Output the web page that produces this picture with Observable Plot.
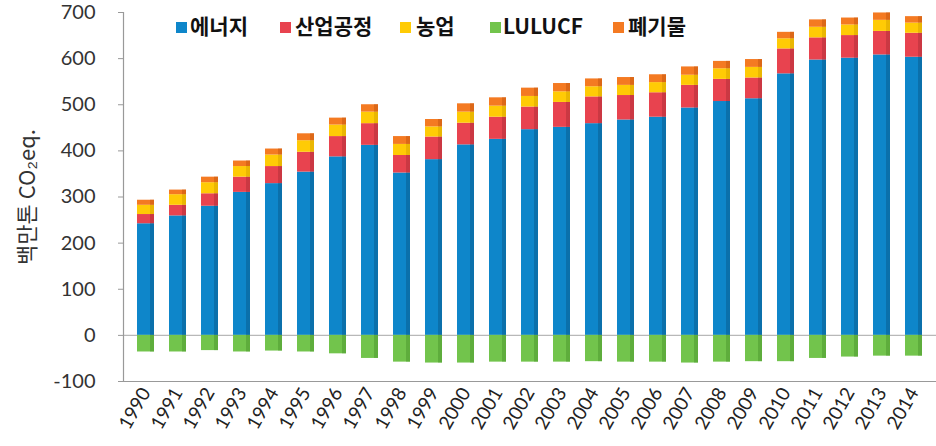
<!DOCTYPE html>
<html>
<head>
<meta charset="utf-8">
<script src="https://cdn.jsdelivr.net/npm/d3@7"></script>
<script src="https://cdn.jsdelivr.net/npm/@observablehq/plot@0.6"></script>
<style>
  html, body { margin: 0; padding: 0; background: #fff; }
  #wrap { position: relative; width: 936px; height: 446px; }
  .lg { position: absolute; top: 10px; display: flex; align-items: center;
        font-family: "Noto Sans CJK KR", sans-serif; font-weight: 700; font-size: 21px; color: #111; white-space: nowrap; }
  .sw { position: absolute; top: 22px; width: 11px; height: 11px; }
</style>
</head>
<body>
<div id="wrap"></div>
<script>
const years = ["1990","1991","1992","1993","1994","1995","1996","1997","1998","1999","2000","2001","2002","2003","2004","2005","2006","2007","2008","2009","2010","2011","2012","2013","2014"];
const seriesNames = ["에너지", "산업공정", "농업", "LULUCF", "폐기물"];
const energy      = [242, 259, 280, 310, 329, 354, 387, 412, 352, 381, 413, 425, 446, 451, 459, 467, 473, 493, 507, 513, 567, 597, 601, 608, 603];
const industry    = [20, 23, 27, 33, 37, 43, 44, 47, 38, 49, 47, 48, 49, 54, 58, 53, 53, 49, 48, 45, 54, 48, 49, 51, 52];
const agriculture = [20, 23, 24, 23, 25, 25, 25, 25, 24, 22, 24, 24, 23, 23, 22, 22, 22, 22, 23, 23, 22, 23, 23, 24, 22];
const lulucf      = [-36, -36, -33, -36, -34, -36, -40, -50, -58, -60, -60, -58, -58, -58, -57, -58, -58, -60, -58, -57, -57, -50, -47, -45, -45];
const waste       = [11, 10, 12, 12, 13, 15, 15, 16, 17, 16, 18, 18, 18, 18, 17, 17, 17, 18, 16, 17, 14, 16, 15, 16, 14];
const yTicks = [-100, 0, 100, 200, 300, 400, 500, 600, 700];
const colors = ["#0E86CA", "#E8434F", "#FFCB05", "#72C44C", "#F47A22"];
const shades = ["#0A5F92", "#B3303B", "#D9A800", "#4F9A30", "#C95A10"];

const valuesBySeries = [energy, industry, agriculture, lulucf, waste];
const rows = [];
seriesNames.forEach((s, k) => years.forEach((yr, i) => rows.push({year: yr, series: s, value: valuesBySeries[k][i]})));
const shadeOf = Object.fromEntries(seriesNames.map((s, k) => [s, shades[k]]));

const stackOpts = {x: "year", y: "value", z: "series", order: seriesNames};

const chart = Plot.plot({
  width: 936,
  height: 446,
  marginTop: 12,
  marginBottom: 65,
  marginLeft: 123,
  marginRight: 0,
  style: {fontFamily: "Lato, sans-serif", background: "#fff"},
  x: {type: "band", domain: years, paddingInner: 0.47, paddingOuter: 0.235, insetLeft: 6, insetRight: 7},
  y: {domain: [-100, 700]},
  color: {domain: seriesNames, range: colors},
  marks: [
    Plot.ruleY([0], {stroke: "#b8b8b8", strokeWidth: 1.2}),
    Plot.barY(rows, Plot.stackY({...stackOpts, fill: "series"})),
    Plot.barY(rows, Plot.stackY({...stackOpts, fill: d => shadeOf[d.series], insetLeft: 13, fillOpacity: 0.55})),
    Plot.ruleY([-100], {stroke: "#999", strokeWidth: 1.2}),
    Plot.frame({anchor: "left", stroke: "#999", strokeWidth: 1.2}),
    Plot.axisY({ticks: yTicks, tickSize: 5, tickPadding: 23, fontSize: 20, stroke: "#999", color: "#333",
      tickFormat: d => String(d),
      label: "백만톤 CO₂eq.", labelAnchor: "center", labelArrow: "none", labelOffset: 104}),
    Plot.axisX({tickSize: 0, tickRotate: -60, tickPadding: 8, fontSize: 19, color: "#222", label: null})
  ]
});

const wrap = document.getElementById("wrap");
wrap.appendChild(chart);

// style the y-axis label
chart.querySelectorAll("[aria-label='y-axis label'] text").forEach(t => {
  t.setAttribute("font-size", "22");
  t.style.fontFamily = "'Noto Sans CJK KR', sans-serif";
  t.style.fill = "#333";
});

// legend overlay
const swLeft = [176, 280, 400, 490, 613];
const txLeft = [190, 295, 416, 503, 628];
seriesNames.forEach((s, k) => {
  const sw = document.createElement("div");
  sw.className = "sw";
  sw.style.left = swLeft[k] + "px";
  sw.style.background = colors[k];
  wrap.appendChild(sw);
  const lg = document.createElement("div");
  lg.className = "lg";
  lg.style.left = txLeft[k] + "px";
  lg.textContent = s;
  wrap.appendChild(lg);
});
</script>
</body>
</html>
